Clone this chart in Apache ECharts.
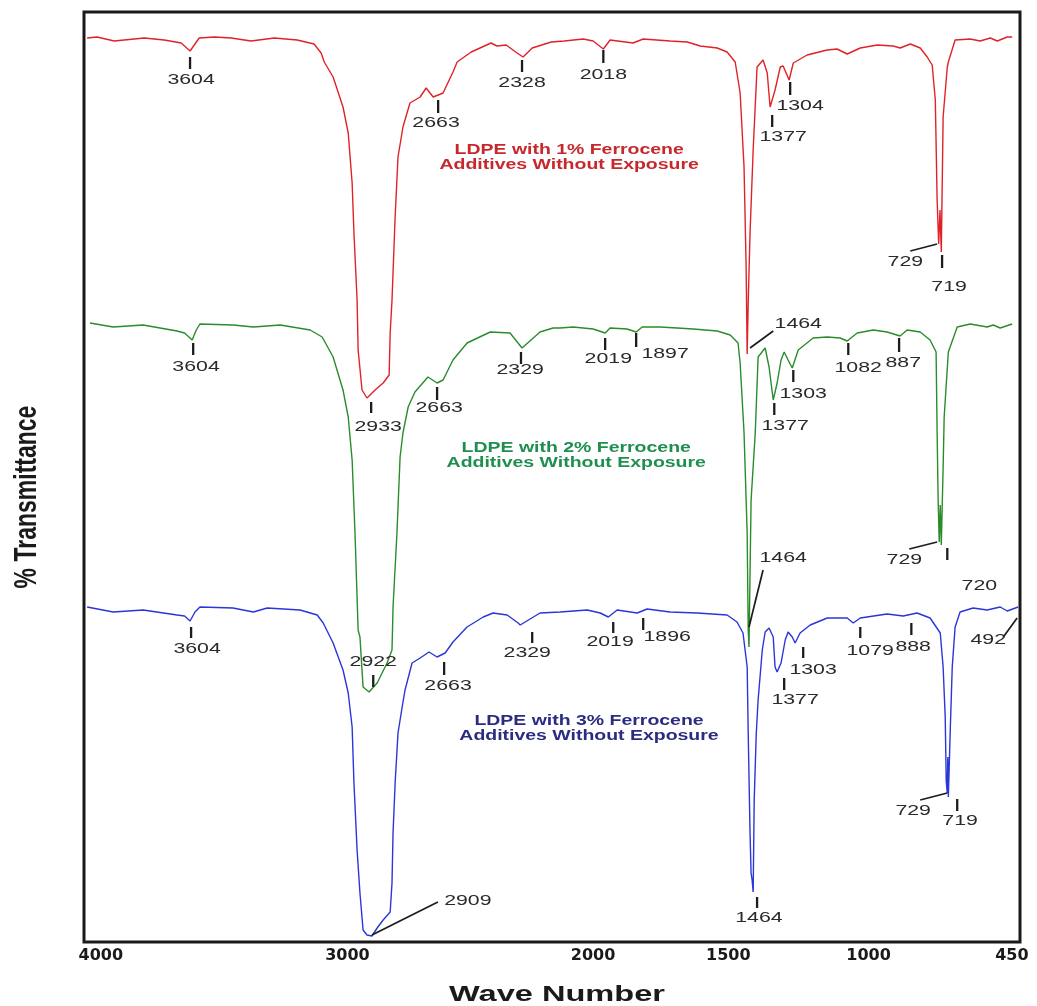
<!DOCTYPE html>
<html>
<head>
<meta charset="utf-8">
<script src="https://cdn.jsdelivr.net/npm/echarts@6/dist/echarts.min.js"></script>
<style>html,body{margin:0;padding:0;background:#fff}#c{width:1037px;height:1006px}</style>
</head>
<body>
<div id="c"></div>
<script>
// x tick labels (wave number, cm-1)
const waveTicks = [4000, 3000, 2000, 1500, 1000, 450];

// spectra: [wave number, offset transmittance]
const red1pct = [
[3999,904],[3961,905],[3895,901],[3780,904],[3703,902],[3638,899],[3604,891],[3569,904],[3511,905],[3446,904],[3370,901],[3281,904],[3193,902],[3128,898],[3101,889],[3089,880],[3055,865],[3017,835],[2997,809],[2982,759],[2975,709],[2963,642],[2959,592],[2944,552],[2925,544],[2894,552],[2863,559],[2840,567],[2836,609],[2829,642],[2817,725],[2806,785],[2787,815],[2760,839],[2721,845],[2698,854],[2671,845],[2633,849],[2595,870],[2579,880],[2525,890],[2449,899],[2426,896],[2391,897],[2349,889],[2326,885],[2291,894],[2218,900],[2168,901],[2095,903],[2057,901],[2018,893],[1992,902],[1904,899],[1865,903],[1762,901],[1696,900],[1646,896],[1581,894],[1543,890],[1512,880],[1493,849],[1478,775],[1470,675],[1466,588],[1462,640],[1455,709],[1443,792],[1428,875],[1405,882],[1389,869],[1378,835],[1359,852],[1339,875],[1328,876],[1305,862],[1289,879],[1236,887],[1159,892],[1121,893],[1082,888],[1032,894],[967,897],[906,896],[879,894],[840,898],[802,894],[775,885],[756,877],[744,842],[737,742],[731,698],[726,732],[721,690],[714,825],[698,875],[694,880],[668,902],[610,903],[572,901],[533,904],[506,901],[468,905],[449,905]
];
const green2pct = [
[3988,619],[3899,615],[3784,617],[3654,611],[3625,609],[3596,602],[3580,612],[3566,618],[3439,617],[3361,615],[3258,617],[3143,612],[3097,605],[3055,585],[3017,552],[2997,525],[2982,482],[2971,409],[2959,312],[2952,305],[2940,255],[2917,250],[2886,259],[2848,279],[2829,292],[2825,335],[2810,409],[2798,485],[2787,509],[2767,535],[2741,550],[2691,565],[2656,559],[2633,562],[2595,582],[2541,599],[2452,610],[2376,609],[2330,594],[2261,610],[2211,614],[2184,614],[2134,615],[2057,613],[2011,609],[1992,614],[1927,613],[1892,610],[1869,615],[1800,615],[1735,614],[1673,613],[1581,611],[1531,607],[1501,599],[1493,579],[1478,509],[1466,409],[1462,312],[1459,295],[1451,442],[1435,509],[1424,585],[1397,594],[1382,575],[1366,542],[1351,559],[1336,582],[1324,590],[1309,582],[1293,574],[1270,592],[1213,604],[1159,605],[1109,604],[1082,601],[1044,609],[982,612],[929,610],[879,606],[852,612],[802,610],[764,602],[741,590],[737,509],[733,440],[729,400],[725,437],[721,397],[714,475],[710,525],[694,590],[660,615],[610,618],[545,615],[522,617],[495,614],[449,618]
];
const blue3pct = [
[3999,335],[3899,330],[3784,332],[3654,327],[3625,326],[3604,321],[3585,330],[3566,335],[3439,334],[3361,330],[3308,334],[3182,332],[3116,327],[3093,319],[3055,299],[3017,272],[2997,249],[2982,215],[2975,159],[2963,92],[2952,49],[2940,12],[2925,7],[2906,6],[2886,14],[2863,22],[2836,30],[2829,59],[2825,109],[2817,159],[2806,209],[2790,235],[2779,252],[2752,279],[2721,284],[2687,290],[2656,285],[2625,289],[2595,300],[2541,315],[2479,325],[2441,329],[2387,327],[2345,319],[2337,317],[2261,329],[2184,330],[2080,332],[2030,329],[1999,325],[1965,332],[1888,329],[1850,333],[1762,330],[1658,329],[1543,327],[1505,320],[1482,309],[1466,275],[1462,209],[1455,109],[1451,69],[1447,62],[1443,50],[1439,142],[1431,209],[1424,242],[1408,292],[1397,310],[1382,314],[1366,305],[1359,275],[1351,270],[1336,279],[1320,302],[1309,310],[1293,305],[1282,299],[1263,309],[1224,317],[1159,324],[1082,324],[1059,319],[1032,324],[929,328],[867,326],[814,329],[764,324],[725,309],[714,275],[706,225],[702,160],[698,149],[696,185],[694,145],[687,209],[679,275],[668,315],[649,330],[599,334],[545,332],[495,335],[468,331],[464,329],[426,335]
];

// peak marker ticks [w1, v1, w2, v2]
const peakTicks = [
[3604,885,3604,873],[2652,842,2652,829],[2330,882,2330,870],[2018,892,2018,879],[1370,827,1370,815],[1301,860,1301,847],[718,687,718,674],[2909,540,2909,529],
[3592,599,3592,587],[2656,555,2656,542],[2334,590,2334,578],[2011,604,2011,592],[1892,609,1892,595],[1362,539,1362,527],[1289,572,1289,560],[1078,599,1078,587],[883,604,883,590],[698,394,698,382],[2901,267,2901,255],
[3600,315,3600,304],[2629,280,2629,267],[2291,310,2291,299],[1980,320,1980,309],[1865,324,1865,312],[1428,45,1428,34],[1324,264,1324,252],[1251,295,1251,284],[1032,315,1032,304],[836,319,836,307],[660,143,660,131]
];
// leader lines [w1, v1, w2, v2]
const leaderLines = [
[840,691,737,698],[1455,594,1366,611],
[844,393,737,400],[1405,372,1459,315],
[2906,7,2653,40],[802,142,698,149],[483,305,430,324]
];
// peak labels
const peakTexts = ['3604','2663','2328','2018','1377','1304','729','719','2933','1464',
'3604','2663','2329','2019','1897','1377','1303','1082','887','729','720','1464','2922',
'3604','2663','2909','2329','2019','1896','1464','1377','1303','1079','888','729','719','492'];
const peakTextPos = [
[3600,862],[2660,819],[2330,859],[2018,867],[1328,805],[1263,836],[859,680],[691,655],[2882,515],[1270,618],
[3581,575],[2648,534],[2337,572],[1999,583],[1781,588],[1320,516],[1251,548],[1040,574],[867,579],[863,382],[575,356],[1328,384],[2901,280],
[3577,293],[2614,256],[2538,41],[2310,289],[1992,300],[1773,305],[1421,24],[1282,242],[1213,272],[994,291],[829,295],[829,131],[649,121],[541,302]
];
// spectrum captions
const captionTexts = ['LDPE with 1% Ferrocene\nAdditives Without Exposure','LDPE with 2% Ferrocene\nAdditives Without Exposure','LDPE with 3% Ferrocene\nAdditives Without Exposure'];
const captionPos = [[2149,784.5],[2122,486],[2073,213.5]];
const captionColors = ['#c8282c','#1f8f4f','#2b2b80'];
const lineColors = ['#e02228','#2a8c2a','#2a36d8'];

const chart = echarts.init(document.getElementById('c'), null, {renderer:'canvas'});

function segSeries(data, width) {
  return {
    type:'custom', coordinateSystem:'cartesian2d', clip:false, silent:true, z:4,
    data:data, dimensions:['x1','y1','x2','y2'], encode:{x:[0,2], y:[1,3]},
    renderItem:function(params, api){
      const a = api.coord([api.value(0), api.value(1)]);
      const b = api.coord([api.value(2), api.value(3)]);
      return {type:'line', shape:{x1:a[0],y1:a[1],x2:b[0],y2:b[1]}, style:{stroke:'#1c1c1c', lineWidth:width}};
    }
  };
}
function textSeries(pos, texts, colorFn, size, weight, lh, sx) {
  return {
    type:'custom', coordinateSystem:'cartesian2d', clip:false, silent:true, z:5,
    data:pos, encode:{x:0, y:1},
    renderItem:function(params, api){
      const p = api.coord([api.value(0), api.value(1)]);
      return {type:'text', x:p[0], y:p[1], scaleX:sx,
        style:{text:texts[params.dataIndex], fill:colorFn(params.dataIndex), fontSize:size, fontFamily:'Liberation Sans', fontWeight:weight,
          textAlign:'center', textVerticalAlign:'middle', align:'center', verticalAlign:'middle', lineHeight:lh}};
    }
  };
}
function spectrum(data, color) {
  return {type:'line', data:data, showSymbol:false, symbol:'none', lineStyle:{color:color, width:1.4}, z:3, silent:true};
}

const lblFont = {fontFamily:'DejaVu Sans', fontWeight:'bold', fontSize:16, color:'#1a1a1a'};
chart.setOption({
  animation:false,
  backgroundColor:'#ffffff',
  grid:{left:84, right:17, top:12, bottom:64, show:true, borderColor:'#1a1a1a', borderWidth:3, backgroundColor:'transparent'},
  xAxis:{type:'value', min:419, max:4011, inverse:true,
    axisLine:{show:false}, axisTick:{show:false}, splitLine:{show:false},
    axisLabel:Object.assign({customValues:waveTicks, margin:6,
      formatter:function(v){ if(v===4000) return '{l|4000}'; if(v===2000) return '{r|2000}'; if(v===1500) return '{q|1500}'; return String(v); },
      rich:{l:Object.assign({padding:[0,0,0,28]}, lblFont), r:Object.assign({padding:[0,30,0,0]}, lblFont), q:Object.assign({padding:[0,20,0,0]}, lblFont)}
    }, lblFont)},
  yAxis:{type:'value', min:0, max:930, show:false, splitLine:{show:false}},
  graphic:[
    {type:'text', x:557, y:995, scaleX:1.48, silent:true,
      style:{text:'Wave Number', font:'bold 22px "Liberation Sans"', fill:'#1a1a1a', textAlign:'center', textVerticalAlign:'middle', align:'center', verticalAlign:'middle'}},
    {type:'text', x:27, y:497, rotation:Math.PI/2, scaleY:1.4, silent:true,
      style:{text:'% Transmittance', font:'bold 23px "Liberation Sans"', fill:'#1a1a1a', textAlign:'center', textVerticalAlign:'middle', align:'center', verticalAlign:'middle'}}
  ],
  series:[
    spectrum(red1pct, lineColors[0]),
    spectrum(green2pct, lineColors[1]),
    spectrum(blue3pct, lineColors[2]),
    segSeries(peakTicks, 2.3),
    segSeries(leaderLines, 1.7),
    textSeries(peakTextPos, peakTexts, function(){return '#2a2a2a';}, 15, 'normal', 17, 1.42),
    textSeries(captionPos, captionTexts, function(i){return captionColors[i];}, 14, 'bold', 15, 1.39)
  ]
});
</script>
</body>
</html>
